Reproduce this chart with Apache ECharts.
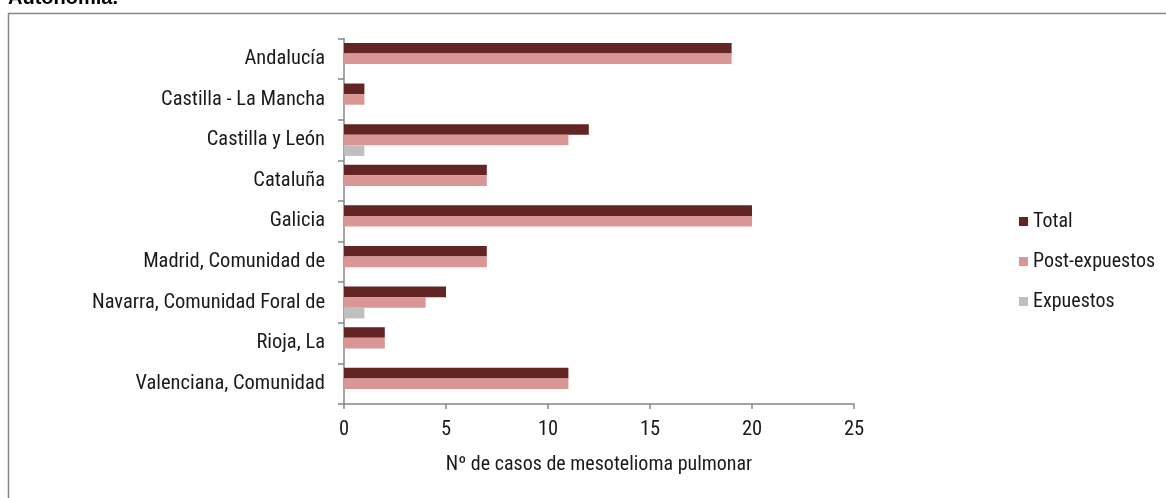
<!DOCTYPE html>
<html>
<head>
<meta charset="utf-8">
<script src="https://cdn.jsdelivr.net/npm/echarts@6/dist/echarts.min.js"></script>
<style>
  html, body { margin: 0; padding: 0; background: #ffffff; }
  #chart { width: 1166px; height: 498px; }
</style>
</head>
<body>
<div id="chart"></div>
<script>
// Comunidades autónomas (top to bottom)
const categories = [
  'Andalucía',
  'Castilla - La Mancha',
  'Castilla y León',
  'Cataluña',
  'Galicia',
  'Madrid, Comunidad de',
  'Navarra, Comunidad Foral de',
  'Rioja, La',
  'Valenciana, Comunidad'
];
const seriesNames = ['Total', 'Post-expuestos', 'Expuestos'];
const totalValues = [19, 1, 12, 7, 20, 7, 5, 2, 11];
const postExpuestosValues = [19, 1, 11, 7, 20, 7, 4, 2, 11];
const expuestosValues = [0, 0, 1, 0, 0, 0, 1, 0, 0];
const xTicks = [0, 5, 10, 15, 20, 25];

const FONT = '"Roboto Condensed", "Liberation Sans", sans-serif';
const AXIS_COLOR = '#868686';
const TEXT_COLOR = '#1a1a1a';

const chart = echarts.init(document.getElementById('chart'), null, { renderer: 'canvas' });

function barSeries(name, data, color) {
  return {
    name: name,
    type: 'bar',
    data: data.map(v => (v === 0 ? null : v)),
    barWidth: 10.6,
    barGap: '0%',
    itemStyle: { color: color },
    emphasis: { disabled: true },
    animation: false
  };
}

chart.setOption({
  animation: false,
  backgroundColor: '#ffffff',
  textStyle: { fontFamily: FONT },
  grid: { left: 344, top: 38.5, width: 510, height: 365.5, containLabel: false },
  legend: {
    orient: 'vertical',
    left: 1014,
    top: 206,
    itemWidth: 9,
    itemHeight: 9,
    itemGap: 19,
    icon: 'rect',
    data: seriesNames,
    textStyle: { fontFamily: FONT, fontSize: 20, color: TEXT_COLOR, lineHeight: 21, padding: [0, 0, 0, 0] }
  },
  xAxis: {
    type: 'value',
    min: xTicks[0],
    max: xTicks[xTicks.length - 1],
    interval: 5,
    name: 'Nº de casos de mesotelioma pulmonar',
    nameLocation: 'middle',
    nameGap: 51,
    nameTextStyle: { fontFamily: FONT, fontSize: 20, color: TEXT_COLOR },
    axisLine: { show: true, lineStyle: { color: AXIS_COLOR, width: 1.5 } },
    axisTick: { show: true, length: 5, inside: false, lineStyle: { color: AXIS_COLOR, width: 1.5 } },
    splitLine: { show: false },
    axisLabel: { fontFamily: FONT, fontSize: 20.5, color: TEXT_COLOR, margin: 15 }
  },
  yAxis: {
    type: 'category',
    inverse: true,
    data: categories,
    axisLine: { show: true, lineStyle: { color: AXIS_COLOR, width: 1.5 } },
    axisTick: { show: true, length: 6, alignWithLabel: false, lineStyle: { color: AXIS_COLOR, width: 1.5 } },
    axisLabel: { fontFamily: FONT, fontSize: 20.5, color: TEXT_COLOR, margin: 19 }
  },
  series: [
    barSeries(seriesNames[0], totalValues, '#632523'),
    barSeries(seriesNames[1], postExpuestosValues, '#D99694'),
    barSeries(seriesNames[2], expuestosValues, '#BFBFBF')
  ],
  graphic: [
    {
      type: 'rect',
      shape: { x: 8.5, y: 13.5, width: 1400, height: 800 },
      style: { fill: 'none', stroke: AXIS_COLOR, lineWidth: 1.5 },
      silent: true,
      z: -1
    },
    {
      type: 'text',
      left: 8,
      top: -12,
      style: {
        text: 'Autonomía.',
        font: 'bold 20px "Liberation Sans", Arial, sans-serif',
        fill: '#000000'
      },
      silent: true
    }
  ]
});
</script>
</body>
</html>
